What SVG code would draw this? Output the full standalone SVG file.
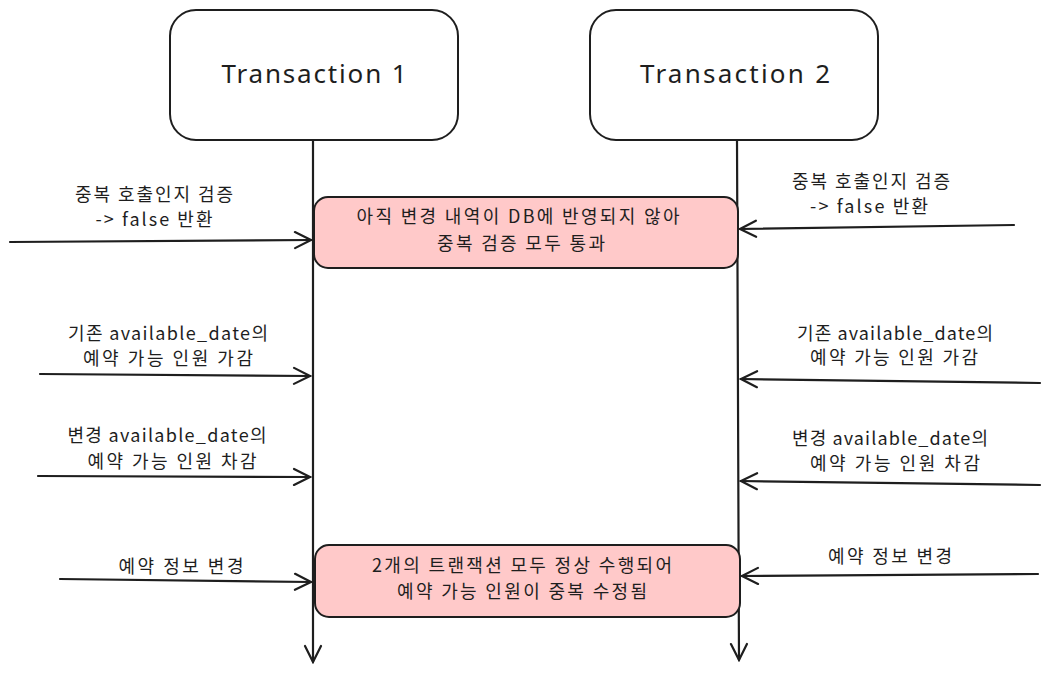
<svg xmlns="http://www.w3.org/2000/svg" width="1050" height="674" viewBox="0 0 1050 674">
<defs>
<style>
.box{fill:#ffffff;stroke:#1e1e1e;stroke-width:2}
.note{fill:#ffc9c9;stroke:#1e1e1e;stroke-width:2}
.line{fill:none;stroke:#1e1e1e;stroke-width:2.2;stroke-linecap:round}
.t{font-family:"Noto Sans CJK KR","Noto Sans",sans-serif;font-size:18px;fill:#1e1e1e;text-anchor:middle}
.title{font-family:"Noto Sans","Noto Sans CJK KR",sans-serif;font-size:26px;fill:#1e1e1e;text-anchor:middle}
</style>
<marker id="ah" viewBox="0 0 20 20" refX="18" refY="10" markerWidth="20" markerHeight="20" markerUnits="userSpaceOnUse" orient="auto">
<path d="M2 2 L18 10 L2 18" fill="none" stroke="#1e1e1e" stroke-width="2.2" stroke-linecap="round"/>
</marker>
</defs>
<rect width="1050" height="674" fill="#ffffff"/>
<g id="connectors">
<line class="line" x1="313" y1="140" x2="313" y2="662" marker-end="url(#ah)"/>
<line class="line" x1="737" y1="140" x2="739" y2="660" marker-end="url(#ah)"/>
<line class="line" x1="10" y1="242" x2="311" y2="240" marker-end="url(#ah)"/>
<line class="line" x1="40" y1="374" x2="310" y2="376" marker-end="url(#ah)"/>
<line class="line" x1="38" y1="476" x2="310" y2="477" marker-end="url(#ah)"/>
<line class="line" x1="60" y1="579" x2="311" y2="582" marker-end="url(#ah)"/>
<line class="line" x1="1014" y1="225" x2="740" y2="229" marker-end="url(#ah)"/>
<line class="line" x1="1040" y1="383" x2="741" y2="379" marker-end="url(#ah)"/>
<line class="line" x1="1040" y1="485" x2="741" y2="481" marker-end="url(#ah)"/>
<line class="line" x1="1038" y1="574" x2="742" y2="576" marker-end="url(#ah)"/>
</g>
<g id="labels">
<text class="t" x="154" y="201" textLength="158">중복 호출인지 검증</text>
<text class="t" x="154" y="226" textLength="117">-&gt; false 반환</text>
<text class="t" x="168" y="340" textLength="200">기존 available_date의</text>
<text class="t" x="168" y="365" textLength="170">예약 가능 인원 가감</text>
<text class="t" x="167" y="442" textLength="199">변경 available_date의</text>
<text class="t" x="172" y="468" textLength="169">예약 가능 인원 차감</text>
<text class="t" x="181" y="573" textLength="125">예약 정보 변경</text>
<text class="t" x="871" y="188" textLength="158">중복 호출인지 검증</text>
<text class="t" x="869" y="213" textLength="118">-&gt; false 반환</text>
<text class="t" x="895" y="340" textLength="196">기존 available_date의</text>
<text class="t" x="894" y="364" textLength="168">예약 가능 인원 가감</text>
<text class="t" x="890" y="445" textLength="196">변경 available_date의</text>
<text class="t" x="895" y="470" textLength="170">예약 가능 인원 차감</text>
<text class="t" x="890" y="563" textLength="124">예약 정보 변경</text>
</g>
<g id="tx1">
<rect class="box" x="170" y="10" width="288" height="130" rx="26"/>
<text class="title" x="314" y="83" textLength="185">Transaction 1</text>
</g>
<g id="tx2">
<rect class="box" x="590" y="10" width="288" height="130" rx="26"/>
<text class="title" x="735" y="83" textLength="190">Transaction 2</text>
</g>
<g id="note1">
<rect class="note" x="314" y="197" width="424" height="71" rx="14"/>
<text class="t" x="518" y="223" textLength="323">아직 변경 내역이 DB에 반영되지 않아</text>
<text class="t" x="521" y="250" textLength="168">중복 검증 모두 통과</text>
</g>
<g id="note2">
<rect class="note" x="315" y="545" width="425" height="72" rx="14"/>
<text class="t" x="522" y="572" textLength="300">2개의 트랜잭션 모두 정상 수행되어</text>
<text class="t" x="522" y="598" textLength="250">예약 가능 인원이 중복 수정됨</text>
</g>
</svg>
